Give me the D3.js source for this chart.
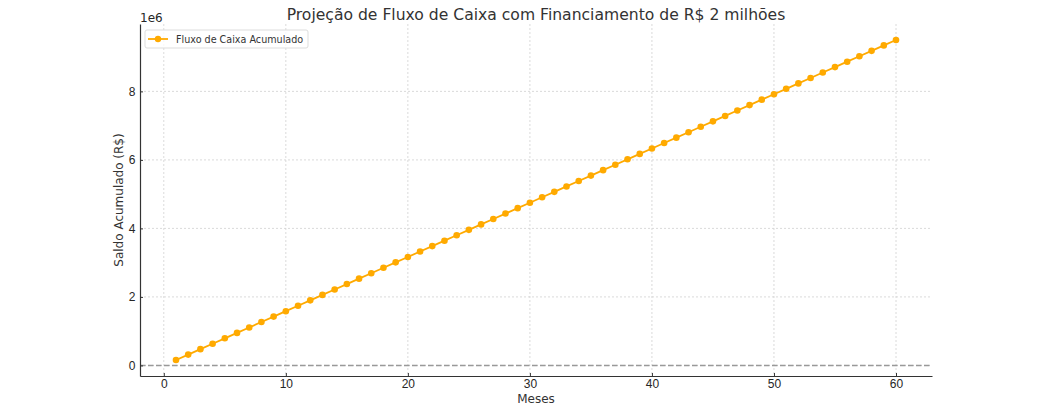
<!DOCTYPE html>
<html>
<head>
<meta charset="utf-8">
<script src="https://cdn.jsdelivr.net/npm/d3@7"></script>
<style>
  html, body { margin: 0; padding: 0; background: #fff; }
  svg { display: block; font-family: "DejaVu Sans", sans-serif; }
  .grid line { stroke: #d0d0d0; stroke-dasharray: 2,2; stroke-width: 0.8; }
  .axis path, .axis line { stroke: #333; }
  .axis text { fill: #262626; font-size: 12px; }
</style>
</head>
<body>
<div id="chart"></div>
<script>
const title = 'Projeção de Fluxo de Caixa com Financiamento de R$ 2 milhões';
const seriesName = 'Fluxo de Caixa Acumulado';
const xLabel = 'Meses';
const yLabel = 'Saldo Acumulado (R$)';

const months = d3.range(1, 61);
const balance = [
  158333, 316667, 475000, 633333, 791667, 950000, 1108333, 1266667, 1425000, 1583333,
  1741667, 1900000, 2058333, 2216667, 2375000, 2533333, 2691667, 2850000, 3008333, 3166667,
  3325000, 3483333, 3641667, 3800000, 3958333, 4116667, 4275000, 4433333, 4591667, 4750000,
  4908333, 5066667, 5225000, 5383333, 5541667, 5700000, 5858333, 6016667, 6175000, 6333333,
  6491667, 6650000, 6808333, 6966667, 7125000, 7283333, 7441667, 7600000, 7758333, 7916667,
  8075000, 8233333, 8391667, 8550000, 8708333, 8866667, 9025000, 9183333, 9341667, 9500000
];
const xTicks = [0, 10, 20, 30, 40, 50, 60];
const yTicks = [0, 2e6, 4e6, 6e6, 8e6];

const width = 1046, height = 413;
const margin = { top: 24, right: 114, bottom: 37, left: 140 };
const iw = width - margin.left - margin.right;
const ih = height - margin.top - margin.bottom;
const color = '#ffaa00';

const data = months.map((m, i) => ({ m, v: balance[i] }));

// matplotlib-like 5% padding
const xMin = d3.min(months), xMax = d3.max(months);
const xPad = (xMax - xMin) * 0.05;
const yMin = d3.min(balance), yMax = d3.max(balance);
const yPad = (yMax - yMin) * 0.05;

const x = d3.scaleLinear().domain([xMin - xPad, xMax + xPad]).range([0, iw]);
const y = d3.scaleLinear().domain([yMin - yPad, yMax + yPad]).range([ih, 0]);

const svg = d3.select('#chart').append('svg')
  .attr('width', width).attr('height', height);

const g = svg.append('g').attr('transform', `translate(${margin.left},${margin.top})`);

// grid
const grid = g.append('g').attr('class', 'grid');
grid.selectAll('.gx').data(xTicks).join('line')
  .attr('x1', d => x(d)).attr('x2', d => x(d))
  .attr('y1', 0).attr('y2', ih);
grid.selectAll('.gy').data(yTicks).join('line')
  .attr('class', 'gy')
  .attr('x1', 0).attr('x2', iw)
  .attr('y1', d => y(d)).attr('y2', d => y(d));

// zero line
g.append('line')
  .attr('x1', 0).attr('x2', iw)
  .attr('y1', y(0)).attr('y2', y(0))
  .attr('stroke', '#999').attr('stroke-width', 1.5)
  .attr('stroke-dasharray', '5.5,2.5');

// axes
const xAxis = g.append('g').attr('class', 'axis')
  .attr('transform', `translate(0,${ih})`)
  .call(d3.axisBottom(x).tickValues(xTicks).tickSizeInner(-3).tickSizeOuter(0).tickPadding(3.5));
const yAxis = g.append('g').attr('class', 'axis')
  .call(d3.axisLeft(y).tickValues(yTicks).tickFormat(d => d / 1e6).tickSizeInner(-3).tickSizeOuter(0).tickPadding(4.5));
xAxis.selectAll('.tick line').attr('stroke', '#bbb');
yAxis.selectAll('.tick line').attr('stroke', '#bbb');
xAxis.select('.domain').attr('stroke-width', 1.2);
yAxis.select('.domain').attr('stroke-width', 1.2);

// offset label
svg.append('text')
  .attr('x', margin.left).attr('y', 21.5)
  .attr('font-size', 12).attr('fill', '#262626')
  .text('1e6');

// line and markers
g.append('path')
  .datum(data)
  .attr('fill', 'none')
  .attr('stroke', color)
  .attr('stroke-width', 1.8)
  .attr('d', d3.line().x(d => x(d.m)).y(d => y(d.v)));

g.selectAll('.pt').data(data).join('circle')
  .attr('class', 'pt')
  .attr('cx', d => x(d.m)).attr('cy', d => y(d.v))
  .attr('r', 3.3)
  .attr('fill', color);

// title and labels
svg.append('text')
  .attr('x', margin.left + iw / 2).attr('y', 20)
  .attr('text-anchor', 'middle')
  .attr('font-size', 15.6).attr('fill', '#333')
  .text(title);

svg.append('text')
  .attr('x', margin.left + iw / 2).attr('y', 403)
  .attr('text-anchor', 'middle')
  .attr('font-size', 12).attr('fill', '#333')
  .text(xLabel);

svg.append('text')
  .attr('transform', `translate(123,${margin.top + ih / 2}) rotate(-90)`)
  .attr('text-anchor', 'middle')
  .attr('font-size', 12).attr('fill', '#333')
  .text(yLabel);

// legend
const lg = svg.append('g').attr('transform', 'translate(145,30)');
lg.append('rect')
  .attr('width', 163).attr('height', 18).attr('rx', 2)
  .attr('fill', '#fff').attr('fill-opacity', 0.8)
  .attr('stroke', '#ddd');
lg.append('line')
  .attr('x1', 3).attr('x2', 23).attr('y1', 9).attr('y2', 9)
  .attr('stroke', color).attr('stroke-width', 1.8);
lg.append('circle').attr('cx', 13).attr('cy', 9).attr('r', 3.2).attr('fill', color);
lg.append('text')
  .attr('x', 31).attr('y', 12.5)
  .attr('font-size', 9.6).attr('fill', '#333')
  .text(seriesName);
</script>
</body>
</html>
